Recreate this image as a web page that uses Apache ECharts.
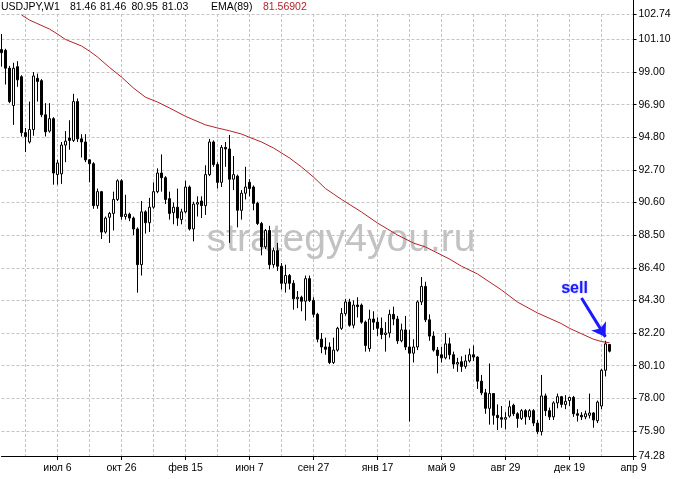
<!DOCTYPE html>
<html><head><meta charset="utf-8">
<script src="https://cdn.jsdelivr.net/npm/echarts@6/dist/echarts.min.js"></script>
<style>html,body{margin:0;padding:0;background:#fff}#c{width:676px;height:479px}</style>
</head><body><div id="c"></div>
<script>
const FONT = '"Liberation Sans", Arial, sans-serif';

// weekly categories (first week of the window and count of weeks incl. empty future slots)
const monthsRu = ['янв','фев','мар','апр','май','июн','июл','авг','сен','окт','ноя','дек'];
const firstWeek = [2009, 2, 30];
const weekCount = 159;
const categories = [];
for (let i = 0; i < weekCount; i++) {
  const d = new Date(Date.UTC(firstWeek[0], firstWeek[1], firstWeek[2] + 7 * i));
  categories.push(monthsRu[d.getUTCMonth()] + ' ' + d.getUTCDate());
}

const yTicks = [102.74, 101.10, 99.00, 96.90, 94.80, 92.70, 90.60, 88.50, 86.40, 84.30, 82.20, 80.10, 78.00, 75.90, 74.28];

const opens = [100.45,100.4,99.25,96.85,99.35,98.7,95.1,94.5,95.3,98.6,98.45,96.25,95.2,96.0,92.4,92.45,94.3,94.75,94.6,97.1,
94.7,94.5,93.35,93.1,90.4,91.3,88.7,89.65,89.9,90.8,92.0,89.7,89.85,89.6,88.9,86.6,90.0,89.3,90.3,91.3,
92.5,92.2,90.85,89.95,90.3,89.5,90.0,91.6,88.9,90.5,90.7,90.4,92.4,94.5,93.05,91.9,94.15,94.05,92.1,92.3,
90.1,91.2,91.9,91.6,90.55,89.25,87.75,88.8,86.6,87.5,86.5,85.4,85.9,85.4,84.4,84.5,84.25,85.7,84.3,83.4,
81.8,81.3,81.3,80.3,81.1,82.5,83.45,84.2,82.7,84.0,84.0,82.9,81.2,83.1,82.9,82.5,82.1,82.2,83.4,83.1,
81.7,82.4,81.3,80.9,81.3,84.2,85.2,83.05,82.0,81.1,80.8,80.6,81.5,80.8,80.2,80.35,80.05,80.4,80.8,80.65,
79.1,78.35,77.35,78.3,76.9,76.75,76.65,76.85,77.55,77.0,76.7,77.2,76.8,77.2,76.4,75.85,78.15,77.2,76.8,77.7,
78.1,77.6,77.85,78.05,77.0,76.9,76.8,76.9,77.05,76.55,77.5,79.8,81.46];
const highs = [101.45,100.5,99.4,99.6,99.7,98.8,95.4,97.1,99.0,98.9,98.55,97.0,97.0,96.1,93.35,94.5,95.2,95.9,97.6,97.3,
95.0,95.0,93.4,93.2,91.5,91.35,89.7,90.0,91.3,92.1,92.1,91.1,89.95,89.7,89.0,90.7,90.1,90.9,91.9,92.8,
93.7,92.3,91.3,90.6,91.5,90.2,92.0,91.7,90.65,91.0,91.0,93.0,94.7,94.6,93.2,94.3,94.5,94.95,93.6,92.4,
91.4,92.9,92.1,91.7,90.65,89.35,88.9,89.1,87.7,88.0,86.7,86.6,86.0,85.6,84.9,84.6,85.9,85.9,84.5,83.5,
82.2,81.9,81.6,81.9,82.6,83.8,84.4,84.4,84.3,84.5,84.1,83.0,83.7,83.6,83.2,83.2,82.9,83.7,83.9,83.3,
82.8,83.3,82.4,81.8,84.3,85.8,85.5,83.4,82.3,81.3,81.3,82.2,81.9,81.0,80.6,80.7,80.8,81.2,81.4,80.7,
79.5,78.6,80.24,78.3,77.6,77.5,77.1,77.85,77.65,77.1,77.3,77.3,77.3,77.3,76.6,79.5,78.3,77.4,77.8,78.3,
78.15,78.2,78.1,78.15,77.3,77.1,77.2,78.3,77.1,77.85,79.9,81.7,81.46];
const lows = [99.35,98.2,97.0,95.6,98.05,94.85,93.85,94.4,94.9,97.1,96.1,94.85,95.1,91.75,91.75,91.8,93.2,94.0,94.5,94.5,
93.5,93.2,91.9,90.2,90.2,88.25,88.6,88.0,88.8,90.7,89.5,89.5,89.4,88.5,84.8,85.9,88.6,88.7,90.2,91.2,
91.3,90.5,89.5,89.2,89.1,89.2,89.9,88.8,88.1,89.7,89.6,89.8,92.3,92.9,91.5,91.6,92.9,88.0,91.4,89.0,
89.5,90.8,91.0,90.1,89.15,87.2,87.6,86.3,86.4,86.2,85.0,84.8,85.0,83.7,83.8,83.6,83.0,84.2,83.2,81.6,
80.9,80.8,80.2,80.2,81.0,82.4,83.3,82.6,82.5,83.2,82.8,81.0,81.0,82.4,82.0,81.8,81.0,81.9,82.7,81.5,
81.6,81.1,76.5,80.3,81.1,84.0,82.9,81.7,81.0,79.6,80.3,80.5,80.5,79.9,79.7,79.7,79.9,80.3,80.4,78.6,
78.2,77.0,76.3,76.3,75.95,76.1,76.0,76.75,76.85,76.1,76.6,76.3,76.6,76.2,75.7,75.6,76.85,76.6,76.6,77.35,
77.4,77.3,77.5,76.8,76.5,76.6,76.65,76.7,76.1,76.4,77.3,79.4,80.95];
const closes = [100.25,99.25,97.1,99.25,98.5,95.1,94.85,95.3,98.75,98.4,96.25,95.15,96.0,92.5,93.15,94.3,94.55,94.6,97.1,94.7,
94.5,93.35,93.1,90.4,91.3,88.7,89.6,89.9,90.8,92.0,89.7,89.85,89.6,88.9,86.6,90.0,89.3,90.3,91.3,92.5,
92.2,90.8,89.9,90.3,89.6,90.0,91.6,88.9,90.5,90.6,90.4,92.4,94.5,93.05,91.9,94.15,94.05,92.1,92.4,90.1,
91.2,91.6,91.5,90.55,89.25,87.75,88.8,86.6,87.5,86.5,85.4,85.9,85.4,84.4,84.5,84.25,85.7,84.3,83.4,81.8,
81.3,81.15,80.3,81.1,82.5,83.45,84.2,82.7,84.0,83.9,82.9,81.4,83.1,82.9,82.5,82.1,82.2,83.4,83.1,81.7,
82.4,81.3,80.9,81.3,84.2,85.2,83.05,82.0,81.1,80.75,80.6,81.5,80.8,80.2,80.3,80.05,80.4,80.8,80.65,79.1,
78.35,77.35,78.3,76.9,76.75,76.65,76.75,77.45,77.0,76.7,77.2,76.8,77.2,76.4,75.85,78.15,77.2,76.8,77.7,78.1,
77.6,77.8,78.05,77.0,76.9,76.8,77.0,77.05,76.6,77.75,79.8,81.5,81.03];

// EMA(89) readings at sampled weeks (index -> value), other weeks left empty
const emaIdx = [5,7,12,14,16,20,22,24,27,30,33,36,39,42,46,51,54,57,60,62,65,68,72,75,78,81,83,85,90,94,99,103,106,108,112,115,119,125,129,134,140,142,145,148,150,152];
const emaVal = [102.68,102.35,101.77,101.45,101.1,100.68,100.35,99.97,99.3,98.68,97.97,97.38,97.07,96.69,96.15,95.6,95.4,95.22,95.01,94.8,94.5,94.11,93.47,92.89,92.24,91.5,91.15,90.8,89.99,89.28,88.51,87.99,87.74,87.48,86.96,86.5,86.0,84.97,84.19,83.49,82.8,82.5,82.15,81.8,81.65,81.57];

const header = [
  {t:'USDJPY,W1', x:1, c:'#000'},
  {t:'81.46', x:70, c:'#000'},
  {t:'81.46', x:100, c:'#000'},
  {t:'80.95', x:131.5, c:'#000'},
  {t:'81.03', x:162, c:'#000'},
  {t:'EMA(89)', x:211, c:'#000'},
  {t:'81.56902', x:263, c:'#b4222a'}
];

const candleData = opens.map((o, i) => [o, closes[i], lows[i], highs[i]]);
const emaData = new Array(opens.length).fill(null);
emaIdx.forEach((k, j) => { emaData[k] = emaVal[j]; });

const chart = echarts.init(document.getElementById('c'), null, {renderer: 'canvas'});
const grid = {left: 1.5, right: 42.5, top: 14, bottom: 23};

chart.setOption({
  animation: false,
  backgroundColor: '#ffffff',
  grid: grid,
  xAxis: {
    type: 'category', data: categories, boundaryGap: false,
    axisLine: {show: true, onZero: false, lineStyle: {color: '#000', width: 1}},
    axisTick: {show: true, interval: (i) => i % 16 === 14, length: 4, lineStyle: {color: '#000'}},
    axisLabel: {show: true, interval: (i) => i % 16 === 14, color: '#000', fontFamily: FONT, fontSize: 10.5, margin: 7},
    splitLine: {show: true, interval: (i) => i % 8 === 6, lineStyle: {color: '#c4c4c4', type: [3, 2], width: 1}}
  },
  yAxis: {
    type: 'value', position: 'right', min: 74.28, max: 102.74,
    axisLine: {show: true, onZero: false, lineStyle: {color: '#000', width: 1}},
    axisTick: {show: true, customValues: yTicks, length: 3, lineStyle: {color: '#000'}},
    axisLabel: {show: true, customValues: yTicks, formatter: (v) => v.toFixed(2), color: '#000', fontFamily: FONT, fontSize: 10.5, margin: 5},
    splitLine: {show: true, lineStyle: {color: '#c4c4c4', type: [3, 2], width: 1}}
  },
  graphic: [
    {type: 'text', z: 1, silent: true, style: {
      text: 'strategy4you.ru', x: 341, y: 240, align: 'center', verticalAlign: 'middle',
      font: '39px ' + FONT, fill: '#c2c2c2',
      shadowColor: 'rgba(40,40,40,0.9)', shadowBlur: 4, shadowOffsetX: 3, shadowOffsetY: 3
    }},
    {type: 'line', z: 10, silent: true, shape: {x1: 633.5, y1: 0, x2: 633.5, y2: 14}, style: {stroke: '#000', lineWidth: 1}}
  ].concat(header.map(h => ({
    type: 'text', z: 20, silent: true,
    style: {text: h.t, x: h.x, y: 7.5, verticalAlign: 'middle', font: '10.5px ' + FONT, fill: h.c}
  }))),
  series: [
    {
      type: 'candlestick', data: candleData, barWidth: 2,
      itemStyle: {color: '#ffffff', color0: '#000000', borderColor: '#000000', borderColor0: '#000000', borderWidth: 1},
      emphasis: {disabled: true}
    },
    {
      type: 'line', data: emaData, connectNulls: true, showSymbol: false, symbol: 'none',
      lineStyle: {color: '#b4222a', width: 1}, emphasis: {disabled: true}, z: 3,
      markLine: {
        silent: true, symbol: ['none', 'arrow'], symbolSize: 13, animation: false,
        label: {show: false},
        lineStyle: {color: '#1a1aff', width: 3, type: 'solid'},
        emphasis: {disabled: true},
        data: [[{coord: [categories[145], 84.45]}, {coord: [categories[151], 81.95]}]]
      },
      markPoint: {
        silent: true, animation: false,
        data: [{
          coord: [categories[143], 85.05], symbol: 'rect', symbolSize: 1,
          itemStyle: {color: 'rgba(0,0,0,0)'},
          label: {show: true, position: 'inside', offset: [1, 0], formatter: 'sell',
            color: '#1a1aff', fontFamily: FONT, fontSize: 16, fontWeight: 'bold',
            textShadowColor: 'rgba(110,110,255,0.6)', textShadowBlur: 2}
        }]
      }
    }
  ]
});
</script>
</body></html>
